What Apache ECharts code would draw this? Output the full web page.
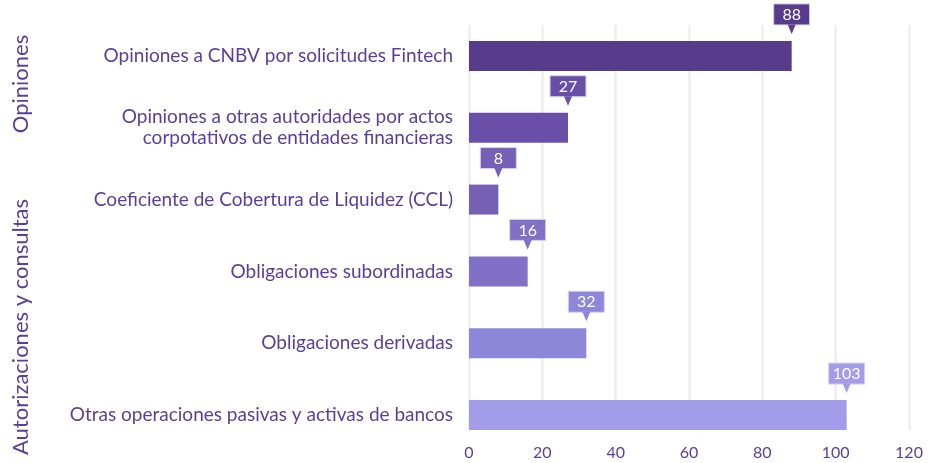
<!DOCTYPE html>
<html>
<head>
<meta charset="utf-8">
<script src="https://cdn.jsdelivr.net/npm/echarts@6/dist/echarts.min.js"></script>
<style>
html,body{margin:0;padding:0;background:#fff;}
#chart{width:929px;height:463px;}
</style>
</head>
<body>
<div id="chart"></div>
<script>
const categories = [
  'Opiniones a CNBV por solicitudes Fintech',
  'Opiniones a otras autoridades por actos\ncorpotativos de entidades financieras',
  'Coeficiente de Cobertura de Liquidez (CCL)',
  'Obligaciones subordinadas',
  'Obligaciones derivadas',
  'Otras operaciones pasivas y activas de bancos'
];
const values = [88, 27, 8, 16, 32, 103];
const xTicks = [0, 20, 40, 60, 80, 100, 120];
const groupLabels = ['Opiniones', 'Autorizaciones y consultas'];

const palette = ['#583C8C', '#6A4FA8', '#7560B6', '#8070C6', '#8E86D8', '#A29CE9'];
const textColor = '#5B3F97';
const FONT = 'Lato, "Noto Sans", sans-serif';

const chart = echarts.init(document.getElementById('chart'));
const option = {
  animation: false,
  backgroundColor: '#fff',
  grid: [
    {left: 469, right: 20, top: 20, height: 431},
    {left: 469, right: 20, top: 25, height: 405}
  ],
  xAxis: [
    {gridIndex: 0, type: 'value', min: 0, max: 120, interval: 20, show: false},
    {gridIndex: 1, type: 'value', min: xTicks[0], max: xTicks[xTicks.length-1], interval: xTicks[1]-xTicks[0],
     axisLine: {show: false}, axisTick: {show: false},
     axisLabel: {color: textColor, fontSize: 16, fontFamily: FONT, margin: 15},
     splitLine: {show: true, lineStyle: {color: '#eeeeee', width: 2.5}}}
  ],
  yAxis: [
    {gridIndex: 0, type: 'category', data: categories, inverse: true,
     axisLine: {show: false}, axisTick: {show: false}, splitLine: {show: false},
     axisLabel: {color: textColor, fontSize: 19, fontFamily: FONT, margin: 16, lineHeight: 21, align: 'right'}},
    {gridIndex: 1, type: 'value', show: false}
  ],
  graphic: [
    {type: 'text', x: 21, y: 84, rotation: Math.PI/2, style: {text: groupLabels[0], fill: textColor, font: '22px ' + FONT, textAlign: 'center', textVerticalAlign: 'middle'}},
    {type: 'text', x: 21, y: 327, rotation: Math.PI/2, style: {text: groupLabels[1], fill: textColor, font: '22px ' + FONT, textAlign: 'center', textVerticalAlign: 'middle'}}
  ],
  series: [
    {type: 'bar', xAxisIndex: 0, yAxisIndex: 0, barWidth: 30,
     data: values.map((v, i) => ({value: v, itemStyle: {color: palette[i]}}))},
    {type: 'custom', xAxisIndex: 0, yAxisIndex: 0, z: 5,
     data: values.map((v, i) => [v, i]),
     renderItem: function (params, api) {
       const v = api.value(0), c = api.value(1);
       const p = api.coord([v, c]);
       const color = palette[params.dataIndex];
       const barTop = p[1] - 15;
       const tipY = barTop - 7;
       const boxBottom = tipY - 9;
       const boxH = 21, boxW = 36;
       return {type: 'group', children: [
         {type: 'rect', shape: {x: p[0] - boxW/2, y: boxBottom - boxH, width: boxW, height: boxH},
          style: {fill: color, stroke: '#d8d1ee', lineWidth: 1}},
         {type: 'polygon', shape: {points: [[p[0]-4, boxBottom-0.5], [p[0]+4, boxBottom-0.5], [p[0], tipY]]},
          style: {fill: color}},
         {type: 'text', style: {text: String(v), x: p[0], y: boxBottom - boxH/2 + 0.5, align: 'center', verticalAlign: 'middle',
          fill: '#ffffff', font: '16px ' + FONT}}
       ]};
     }}
  ]
};
chart.setOption(option);
</script>
</body>
</html>
